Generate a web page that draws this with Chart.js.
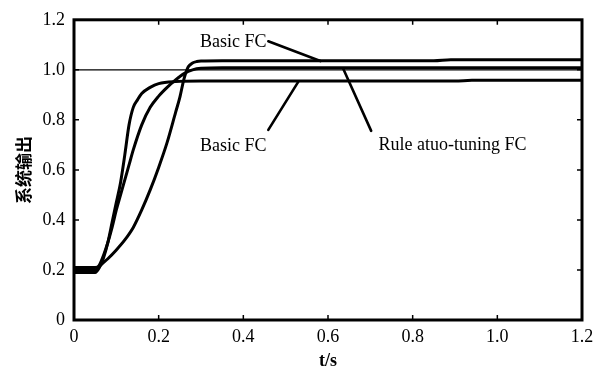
<!DOCTYPE html>
<html lang="zh">
<head>
<meta charset="UTF-8">
<title>系统输出</title>
<script src="https://cdn.jsdelivr.net/npm/chart.js"></script>
<style>
  html, body { margin: 0; padding: 0; background: #fff; }
  #wrap { width: 602px; height: 370px; }
</style>
</head>
<body>
<div id="wrap"><canvas id="myChart" width="602" height="370"></canvas></div>
<script>
// 时间轴刻度
const xTicks = [0, 0.2, 0.4, 0.6, 0.8, 1.0, 1.2];
const yTicks = [0, 0.2, 0.4, 0.6, 0.8, 1.0, 1.2];

// Basic FC (快速上升, 稳态约 0.955)
const tA = [0, 0.05, 0.06, 0.07, 0.08, 0.09, 0.10, 0.11, 0.12, 0.13, 0.14, 0.15, 0.16, 0.18, 0.20, 0.24, 0.30, 0.90, 0.94, 1.2];
const yA = [0.19, 0.19, 0.21, 0.25, 0.31, 0.39, 0.47, 0.55, 0.66, 0.78, 0.85, 0.88, 0.905, 0.93, 0.945, 0.953, 0.955, 0.955, 0.958, 0.958];

// Rule atuo-tuning FC (稳态约 1.005)
const tB = [0, 0.05, 0.06, 0.07, 0.08, 0.09, 0.10, 0.11, 0.12, 0.13, 0.14, 0.16, 0.18, 0.20, 0.22, 0.24, 0.26, 0.28, 0.30, 0.35, 1.2];
const yB = [0.20, 0.20, 0.22, 0.26, 0.31, 0.37, 0.44, 0.50, 0.56, 0.62, 0.68, 0.78, 0.85, 0.895, 0.93, 0.96, 0.985, 1.0, 1.006, 1.008, 1.008];

// Basic FC (慢速上升, 有超调, 稳态约 1.035)
const tC = [0, 0.05, 0.06, 0.07, 0.08, 0.10, 0.12, 0.14, 0.16, 0.18, 0.20, 0.22, 0.24, 0.25, 0.26, 0.27, 0.28, 0.29, 0.30, 0.35, 0.85, 0.89, 1.2];
const yC = [0.21, 0.21, 0.215, 0.23, 0.245, 0.28, 0.32, 0.37, 0.44, 0.52, 0.61, 0.71, 0.83, 0.89, 0.965, 1.012, 1.027, 1.033, 1.035, 1.036, 1.036, 1.04, 1.04];

// 参考值 1.0
const tRef = [0, 1.2];
const yRef = [1.0, 1.0];

// 标注文字和引线 (数据坐标)
const annoText = ['Basic FC', 'Basic FC', 'Rule atuo-tuning FC'];
const annoX = [0.376, 0.376, 0.894];
const annoY = [1.11, 0.695, 0.698];
const leadX0 = [0.459, 0.459, 0.702];
const leadY0 = [1.114, 0.76, 0.756];
const leadX1 = [0.582, 0.53, 0.636];
const leadY1 = [1.035, 0.953, 1.004];

const serif = '"Liberation Serif", "DejaVu Serif", serif';

function toPoints(xs, ys) {
  return xs.map((x, i) => ({ x: x, y: ys[i] }));
}

function fmt(v) {
  return v === 0 ? '0' : v.toFixed(1);
}

// 画外框, 内向刻度, 标注
const framePlugin = {
  id: 'frame',
  afterDatasetsDraw(chart) {
    const ctx = chart.ctx;
    const a = chart.chartArea;
    const xs = chart.scales.x;
    const ys = chart.scales.y;
    ctx.save();
    ctx.strokeStyle = '#000';

    // 内向刻度
    ctx.lineWidth = 1.5;
    const tl = 5;
    xTicks.forEach(v => {
      const px = xs.getPixelForValue(v);
      ctx.beginPath();
      ctx.moveTo(px, a.bottom); ctx.lineTo(px, a.bottom - tl);
      ctx.moveTo(px, a.top); ctx.lineTo(px, a.top + tl);
      ctx.stroke();
    });
    yTicks.forEach(v => {
      const py = ys.getPixelForValue(v);
      ctx.beginPath();
      ctx.moveTo(a.left, py); ctx.lineTo(a.left + tl, py);
      ctx.moveTo(a.right, py); ctx.lineTo(a.right - tl, py);
      ctx.stroke();
    });

    // 外框
    ctx.lineWidth = 3;
    ctx.strokeRect(a.left, a.top, a.right - a.left, a.bottom - a.top);

    // 引线
    ctx.lineWidth = 2.6;
    ctx.lineCap = 'round';
    for (let i = 0; i < annoText.length; i++) {
      ctx.beginPath();
      ctx.moveTo(xs.getPixelForValue(leadX0[i]), ys.getPixelForValue(leadY0[i]));
      ctx.lineTo(xs.getPixelForValue(leadX1[i]), ys.getPixelForValue(leadY1[i]));
      ctx.stroke();
    }

    // 标注文字
    ctx.fillStyle = '#000';
    ctx.font = '18px ' + serif;
    ctx.textAlign = 'center';
    ctx.textBaseline = 'middle';
    for (let i = 0; i < annoText.length; i++) {
      ctx.fillText(annoText[i], xs.getPixelForValue(annoX[i]), ys.getPixelForValue(annoY[i]));
    }
    ctx.restore();
  }
};

const lineStyle = {
  borderColor: '#000',
  borderWidth: 3,
  pointRadius: 0,
  fill: false,
  cubicInterpolationMode: 'monotone'
};

new Chart(document.getElementById('myChart').getContext('2d'), {
  type: 'line',
  data: {
    datasets: [
      Object.assign({ label: 'ref', data: toPoints(tRef, yRef) }, lineStyle, { borderWidth: 1.3 }),
      Object.assign({ label: 'Basic FC', data: toPoints(tA, yA) }, lineStyle),
      Object.assign({ label: 'Rule atuo-tuning FC', data: toPoints(tB, yB) }, lineStyle),
      Object.assign({ label: 'Basic FC 2', data: toPoints(tC, yC) }, lineStyle)
    ]
  },
  options: {
    responsive: false,
    animation: false,
    events: [],
    layout: { padding: { top: 15, right: 20, left: 0, bottom: 0 } },
    plugins: {
      legend: { display: false },
      tooltip: { enabled: false }
    },
    scales: {
      x: {
        type: 'linear',
        min: 0,
        max: 1.2,
        afterBuildTicks: s => { s.ticks = xTicks.map(v => ({ value: v })); },
        afterFit: s => { s.height = 50; },
        grid: { display: false, drawTicks: false },
        border: { display: false },
        ticks: {
          color: '#000',
          padding: 6,
          maxRotation: 0,
          font: { family: serif, size: 18 },
          callback: v => fmt(v)
        },
        title: {
          display: true,
          text: 't/s',
          color: '#000',
          padding: { top: 0, bottom: -2 },
          font: { family: serif, size: 18, weight: 'bold' }
        }
      },
      y: {
        min: 0,
        max: 1.2,
        afterBuildTicks: s => { s.ticks = yTicks.map(v => ({ value: v })); },
        afterFit: s => { s.width = 74; },
        grid: { display: false, drawTicks: false },
        border: { display: false },
        ticks: {
          color: '#000',
          padding: 9,
          font: { family: serif, size: 18 },
          callback: v => fmt(v)
        },
        title: {
          display: true,
          text: '系统输出',
          color: '#000',
          padding: { top: 13, bottom: 0 },
          font: { family: '"Noto Sans CJK SC", sans-serif', size: 17, weight: 'bold' }
        }
      }
    }
  },
  plugins: [framePlugin]
});
</script>
</body>
</html>
